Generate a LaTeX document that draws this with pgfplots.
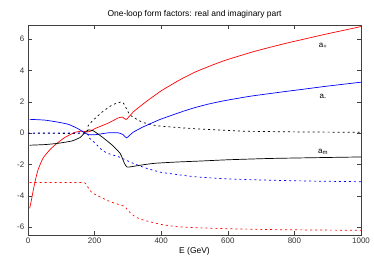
\documentclass[border=0pt]{standalone}
\usepackage{fontspec}
\setmainfont{Liberation Sans}
\usepackage{pgfplots}
\pgfplotsset{compat=1.18}
\definecolor{gred}{RGB}{255,0,0}
\definecolor{gblue}{RGB}{0,0,255}
\begin{document}
\begin{tikzpicture}
\begin{axis}[
  at={(0,0)}, anchor=south west,
  scale only axis, width=333bp, height=210bp,
  xmin=0, xmax=1000, ymin=-6.5, ymax=6.9,
  xtick={0,200,...,1000}, ytick={-6,-4,...,6},
  tick align=inside, major tick length=4bp,
  /pgf/number format/assume math mode=true,
  /pgf/number format/1000 sep={},
  tick label style={font=\fontsize{8}{9}\selectfont, text=black!80},
  x tick label style={yshift=1bp},
  xlabel={E (GeV)}, xlabel style={font=\fontsize{8.5}{10}\selectfont, yshift=3bp},
  title={One-loop form factors: real and imaginary part},
  title style={font=\fontsize{8.5}{10}\selectfont, yshift=-3bp},
  axis line style={line width=0.8pt, black!75},
  every tick/.style={black!75, line width=0.5pt},
  line width=0.7pt,
  clip=true,
]
% a+ real
\addplot[gred, line join=round, smooth, tension=0.3] coordinates {
(5,-4.8) (10,-4.3) (14,-3.85) (21,-3.1) (30,-2.35) (45,-1.6) (66,-1.05) (87,-0.65) (111,-0.27) (141,0.05) (163,0.13) (176,0.07) (185,0.1) (202,0.3) (241,0.64) (271,0.97) (284,1.02) (295,0.87) (316,1.35) (337,1.72) (367,2.2) (400,2.7) (437,3.17) (467,3.53) (500,3.88) (539,4.22) (569,4.47) (600,4.7) (669,5.15) (700,5.33) (774,5.73) (819,5.95) (895,6.32) (950,6.57) (1000,6.8)};
% a- real
\addplot[gblue, line join=round, smooth, tension=0.3] coordinates {
(5,0.88) (51,0.83) (90,0.7) (120,0.57) (147,0.32) (172,0.0) (181,-0.1) (202,-0.1) (241,0.02) (271,0.02) (286,-0.1) (296,-0.3) (316,0.06) (346,0.4) (383,0.75) (400,0.9) (437,1.18) (467,1.4) (500,1.62) (539,1.84) (569,1.98) (600,2.11) (669,2.36) (774,2.66) (819,2.78) (895,2.99) (1000,3.25)};
% am real
\addplot[black, line join=round, smooth, tension=0.3] coordinates {
(5,-0.77) (51,-0.73) (90,-0.65) (132,-0.5) (157,-0.27) (172,0.06) (181,0.2) (196,0.15) (223,-0.25) (253,-0.77) (277,-1.3) (289,-1.9) (298,-2.17) (322,-2.1) (352,-2.0) (383,-1.92) (450,-1.84) (518,-1.78) (600,-1.7) (720,-1.62) (850,-1.57) (1000,-1.52)};
% am imag
\addplot[black, dash pattern=on 2pt off 3pt, smooth, tension=0.3] coordinates {
(0,0) (170,0) (181,0.5) (202,0.95) (223,1.35) (253,1.8) (283,2.0) (292,1.7) (307,1.15) (343,0.7) (388,0.47) (488,0.3) (639,0.13) (800,0.08) (1000,0.05)};
% a- imag
\addplot[gblue, dash pattern=on 2pt off 3pt, smooth, tension=0.3] coordinates {
(0,0) (172,0) (181,-0.25) (202,-0.65) (223,-1.1) (241,-1.3) (271,-1.5) (292,-1.7) (313,-1.9) (350,-2.2) (400,-2.5) (500,-2.78) (600,-2.92) (720,-3.0) (850,-3.06) (1000,-3.1)};
% a+ imag
\addplot[gred, dash pattern=on 2pt off 3pt, smooth, tension=0.3] coordinates {
(5,-3.15) (162,-3.15) (175,-3.3) (190,-3.75) (211,-4.02) (250,-4.4) (280,-4.6) (291,-4.7) (307,-5.08) (322,-5.34) (347,-5.55) (401,-5.83) (452,-5.98) (512,-6.04) (600,-6.1) (720,-6.15) (850,-6.18) (1000,-6.2)};
\node[font=\fontsize{8}{9}\selectfont] at (axis cs:886,5.6) {a\textsubscript{+}};
\node[font=\fontsize{8}{9}\selectfont] at (axis cs:886,2.3) {a\textsubscript{-}};
\node[font=\fontsize{8}{9}\selectfont] at (axis cs:886,-1.2) {a\textsubscript{m}};
\end{axis}
\pgfresetboundingbox
\useasboundingbox (-28bp,-27bp) rectangle (346bp,235bp);
\end{tikzpicture}
\end{document}
